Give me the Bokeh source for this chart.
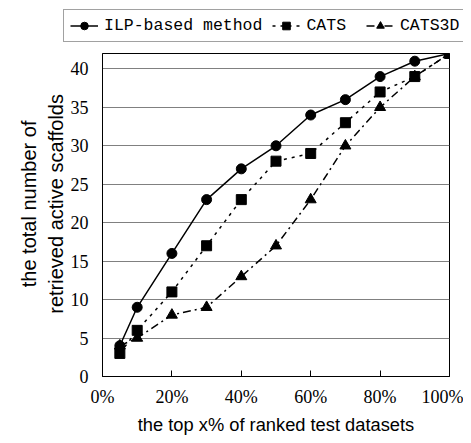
from bokeh.plotting import figure
from bokeh.models import Range1d, FixedTicker, Legend, LegendItem, CustomJSTickFormatter
from bokeh.embed import file_html
from bokeh.resources import INLINE

x_pct = [5, 10, 20, 30, 40, 50, 60, 70, 80, 90, 100]
ilp = [4, 9, 16, 23, 27, 30, 34, 36, 39, 41, 42]
cats = [3, 6, 11, 17, 23, 28, 29, 33, 37, 39, 42]
cats3d = [4, 5, 8, 9, 13, 17, 23, 30, 35, 39, 42]
series_names = ["ILP-based method", "CATS ", "CATS3D"]
x_ticks = [0, 20, 40, 60, 80, 100]
y_ticks = [0, 5, 10, 15, 20, 25, 30, 35, 40]

styles = [
    dict(dash="solid", marker="circle", size=10),
    dict(dash="3 5", marker="square", size=10),
    dict(dash="8 4 2 4", marker="triangle", size=11),
]

# ---------- main chart ----------
p = figure(width=463, height=392, output_backend="svg", toolbar_location=None,
           x_range=Range1d(0, 100), y_range=Range1d(0, 42))
p.min_border_left = 102
p.min_border_right = 14
p.min_border_top = 8
p.min_border_bottom = 60

p.outline_line_color = "black"
p.outline_line_width = 1
p.background_fill_color = "white"
p.border_fill_color = "white"

p.xgrid.visible = False
p.ygrid.grid_line_color = "#808080"
p.ygrid.grid_line_width = 1
p.ygrid.ticker = FixedTicker(ticks=y_ticks)

p.xaxis.ticker = FixedTicker(ticks=x_ticks)
p.xaxis.formatter = CustomJSTickFormatter(code="return tick + '%';")
p.yaxis.ticker = FixedTicker(ticks=y_ticks)

for ax in (p.xaxis[0], p.yaxis[0]):
    ax.major_label_text_font = "Liberation Serif"
    ax.major_label_text_font_size = "18px"
    ax.major_label_text_color = "black"
    ax.axis_label_text_font = "Liberation Sans"
    ax.axis_label_text_font_style = "normal"
    ax.axis_label_text_color = "black"
    ax.minor_tick_line_color = None
    ax.axis_line_color = "black"

p.xaxis.major_tick_in = 6
p.xaxis.major_tick_out = 0
p.xaxis.major_tick_line_color = "black"
p.xaxis.major_label_standoff = 10
p.xaxis.axis_label = "the top x% of ranked test datasets"
p.xaxis.axis_label_text_font_size = "18.3px"
p.xaxis.axis_label_standoff = 4

nb = "\u00a0" * 4
p.yaxis.major_tick_line_color = None
p.yaxis.major_label_standoff = 8
p.yaxis.axis_label = nb + "the total number of\n" + nb + "retrieved active scaffolds"
p.yaxis.axis_label_text_font_size = "20px"
p.yaxis.axis_label_standoff = 1

for ys, st in zip([ilp, cats, cats3d], styles):
    p.line(x_pct, ys, line_color="black", line_width=1.5, line_dash=st["dash"])
    p.scatter(x_pct, ys, marker=st["marker"], size=st["size"],
              fill_color="black", line_color="black")

# ---------- legend strip (same series, drawn outside its visible range) ----------
lg = figure(width=463, height=45, output_backend="svg", toolbar_location=None,
            x_range=Range1d(1000, 1001), y_range=Range1d(1000, 1001),
            x_axis_location=None, y_axis_location=None)
lg.grid.visible = False
lg.outline_line_color = None
lg.border_fill_color = "white"
lg.background_fill_color = "white"
lg.min_border_left = 63
lg.min_border_top = 9
lg.min_border_right = 0
lg.min_border_bottom = 0

items = []
for name, ys, st in zip(series_names, [ilp, cats, cats3d], styles):
    rl = lg.line(x_pct, ys, line_color="black", line_width=1.5, line_dash=st["dash"])
    rm = lg.scatter(x_pct, ys, marker=st["marker"], size=st["size"],
                    fill_color="black", line_color="black")
    items.append(LegendItem(label=name, renderers=[rl, rm]))

legend = Legend(items=items, orientation="horizontal", location="top_left")
legend.label_text_font = "Liberation Mono"
legend.label_text_font_size = "16.5px"
legend.label_text_color = "black"
legend.border_line_color = "#444444"
legend.border_line_width = 1
legend.padding = 6
legend.spacing = 10
legend.glyph_width = 28
legend.glyph_height = 19
legend.label_standoff = 6
legend.margin = 0
legend.background_fill_alpha = 1
lg.add_layout(legend, "center")

open("out.html", "w").write(file_html([lg, p], INLINE))
